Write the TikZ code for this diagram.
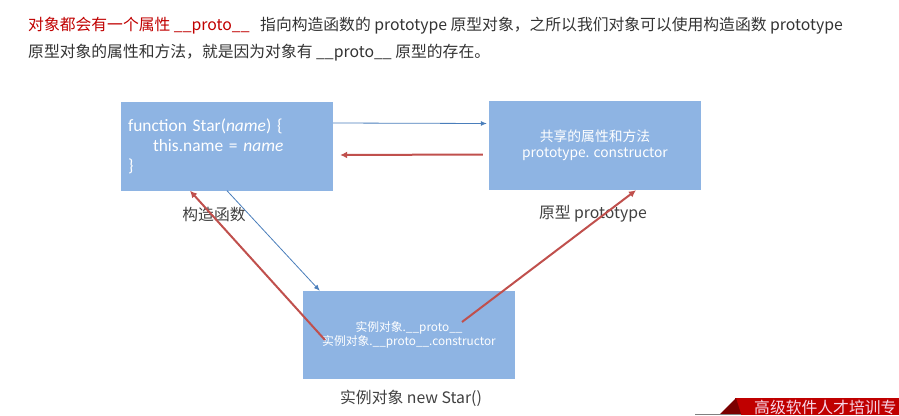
\documentclass[tikz,border=0pt]{standalone}
\usepackage{fontspec}
\setmainfont{Carlito}
\newfontfamily\cjk{Noto Sans CJK SC}
\usetikzlibrary{arrows.meta}
\definecolor{boxblue}{HTML}{8EB4E3}
\definecolor{linkblue}{HTML}{4A7EBB}
\definecolor{linkred}{HTML}{C0504D}
\definecolor{headred}{HTML}{C00000}
\definecolor{headgray}{HTML}{333333}
\definecolor{labgray}{HTML}{404040}
\definecolor{bandred}{HTML}{C00000}
\definecolor{banddark}{HTML}{7A0000}
\begin{document}
\begin{tikzpicture}[x=1pt, y=-1pt,
  objbox/.style={fill=boxblue, minimum width=212pt, minimum height=89pt, inner sep=0pt, text=white},
  bluelink/.style={linkblue, line width=0.8pt, -{Latex[length=6pt,width=5pt]}},
  redlink/.style={linkred, line width=2pt, -{Latex[length=7pt,width=7pt]}},
  caption/.style={font=\cjk\fontsize{15.8}{18}\selectfont, text=labgray}]
\useasboundingbox (0,0) rectangle (899,415);
% header
\node[anchor=west, inner sep=0pt, font=\cjk\fontsize{15.8}{18}\selectfont, text=headgray] (head1) at (28,26)
  {\textcolor{headred}{对象都会有一个属性 \_\_proto\_\_}\ \ \ 指向构造函数的 prototype 原型对象，之所以我们对象可以使用构造函数 prototype};
\node[anchor=west, inner sep=0pt, font=\cjk\fontsize{15.8}{18}\selectfont, text=headgray] (head2) at (28,53)
  {原型对象的属性和方法，就是因为对象有 \_\_proto\_\_ 原型的存在。};
% boxes
\node[objbox, text width=198pt, align=left, font=\fontsize{17.4}{20}\selectfont] (ctor) at (227,146)
  {function Star(\textit{name}) \{\\\hspace*{25pt}this.name = \textit{name}\\\}};
\node[objbox, align=center, font=\cjk\fontsize{13.8}{16}\selectfont] (proto) at (595,145.5)
  {共享的属性和方法\\prototype. constructor};
\node[objbox, minimum height=88pt, align=center, font=\cjk\fontsize{11.8}{14}\selectfont] (inst) at (409,335)
  {实例对象.\_\_proto\_\_\\实例对象.\_\_proto\_\_.constructor};
% captions
\node[caption] (ctorlab) at (214,215) {构造函数};
\node[caption] (protolab) at (593,214) {原型 prototype};
\node[caption] (instlab) at (411,398) {实例对象 new Star()};
% links
\draw[bluelink] ([yshift=23pt]ctor.east) -- ([yshift=22pt,xshift=-2pt]proto.west);
\draw[redlink] ([yshift=-9pt,xshift=-6pt]proto.west) -- ([yshift=-9pt,xshift=7pt]ctor.east);
\draw[bluelink] (ctor.south) -- ([xshift=17pt]inst.north west);
\draw[redlink] ([xshift=-84pt,yshift=-5pt]inst.center) -- ([xshift=-37pt]ctor.south);
\draw[redlink] ([xshift=53pt,yshift=13pt]inst.center) -- ([xshift=41pt]proto.south);
% banner
\fill[bandred] (735,398) rectangle (899,415);
\fill[banddark] (720,414) -- (736,398) -- (741,414) -- cycle;
\draw[gray, line width=1.2pt] (695,414.5) -- (741,414.5);
\node[anchor=west, inner sep=0pt, text={rgb,255:red,246;green,214;blue,232}, font=\cjk\fontsize{15.8}{16}\selectfont] (band) at (754,407.5)
  {高级软件人才培训专};
\end{tikzpicture}
\end{document}
